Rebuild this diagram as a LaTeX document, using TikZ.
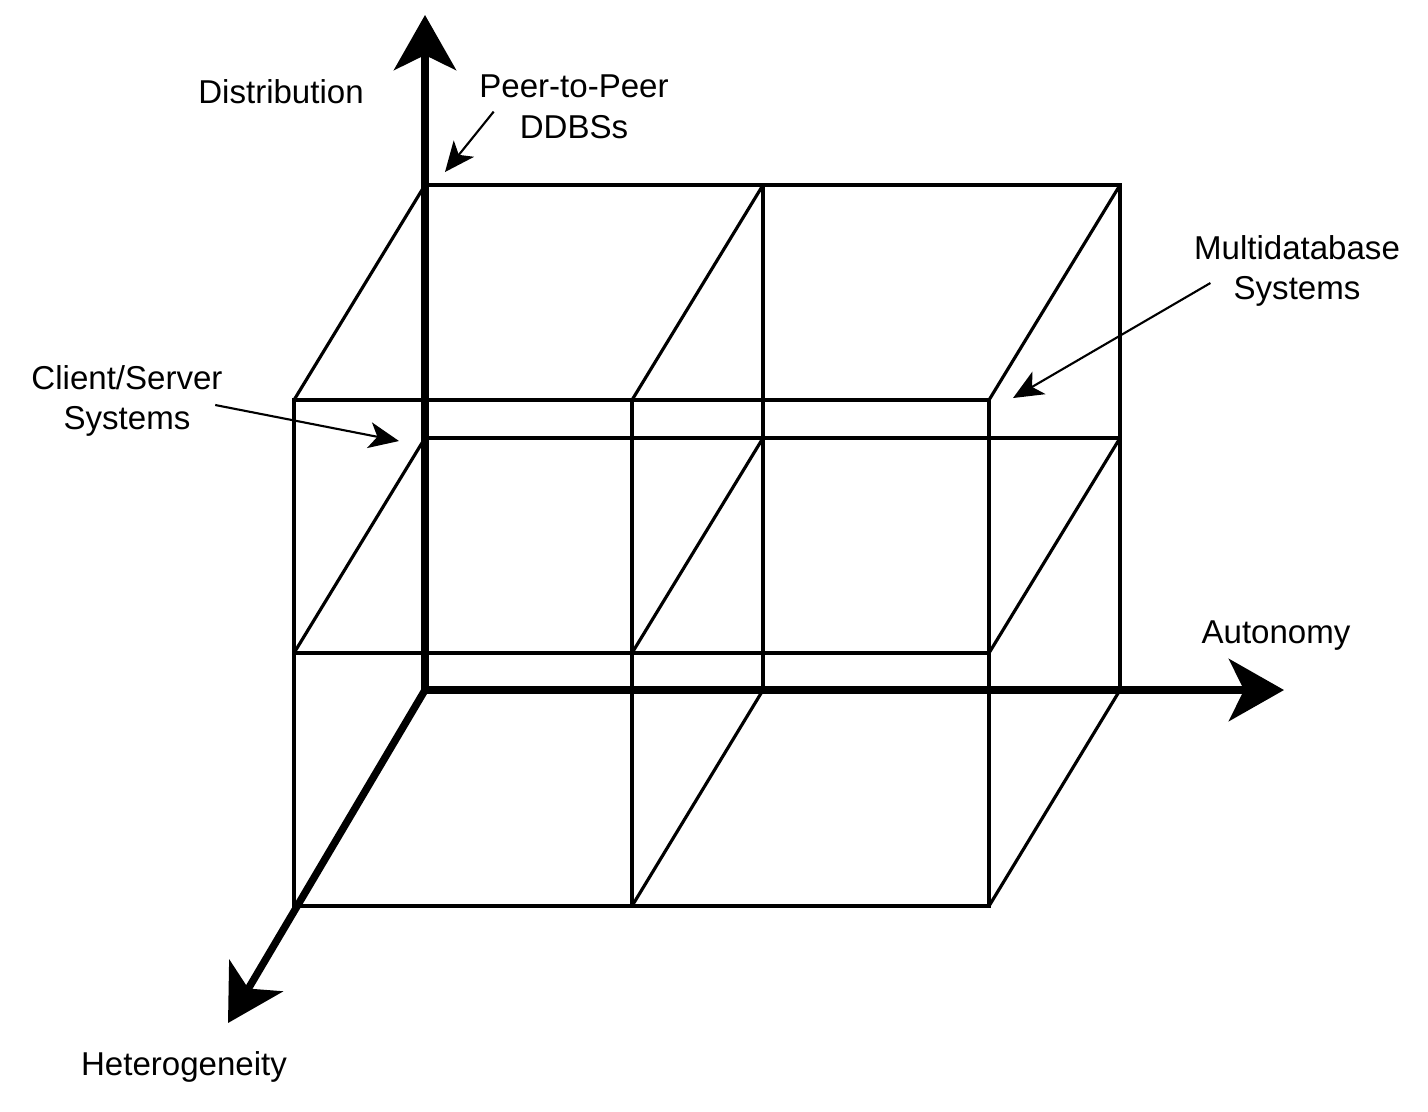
\documentclass[tikz,border=0pt]{standalone}
\usepackage{fontspec}
\setmainfont{Liberation Sans}
\usetikzlibrary{arrows.meta,positioning,calc}

\tikzset{
  cell/.style={line width=0.9pt, line join=miter},
  axis/.style={line width=2.1pt, -{Stealth[length=5.5mm, width=6.2mm, inset=1.5mm]}},
  ptr/.style={line width=0.6pt, -{Stealth[length=3mm, width=2.6mm, inset=0.8mm]}},
  lbl/.style={font=\fontsize{9.4}{11.6}\selectfont, align=center, inner sep=0pt},
}

\begin{document}
\begin{tikzpicture}[x=0.01cm, y=-0.01cm]
\useasboundingbox (0,0) rectangle (1428,1111);
% back layer
\draw[cell] (425,185) -- (1120,185) -- (1120,690);
\draw[cell] (425,438) -- (1120,438);
\draw[cell] (763,185) -- (763,690);
% front layer
\draw[cell] (294,400) rectangle (989,906);
\draw[cell] (294,653) -- (989,653);
\draw[cell] (632,400) -- (632,906);
% depth edges
\draw[cell] (425,185) -- (294,400) (763,185) -- (632,400) (1120,185) -- (989,400);
\draw[cell] (425,438) -- (294,653) (763,438) -- (632,653) (1120,438) -- (989,653);
\draw[cell] (763,690) -- (632,906) (1120,690) -- (989,906);
% axes
\coordinate (O) at (425,690);
\coordinate (distTip) at (425,15);
\coordinate (autoTip) at (1284,690);
\coordinate (hetTip) at (228,1023);
\draw[axis] (O) -- (distTip);
\draw[axis] (O) -- (autoTip);
\draw[axis] (O) -- (hetTip);
\node[lbl] (dist) at (281,92) {Distribution};
\node[lbl] (auto) at (1276,636) {Autonomy};
\node[lbl] (het) at (184,1067) {Heterogeneity};
% system classes
\node[lbl] (p2p) at (574,107) {Peer-to-Peer\\DDBSs};
\node[lbl] (multi) at (1297,271) {Multidatabase\\Systems};
\node[lbl] (cs) at (127,401) {Client/Server\\Systems};
\coordinate (p2pTip) at (445,172);
\coordinate (multiTip) at (1013,398);
\coordinate (csTip) at (399,441);
\draw[ptr] (p2p.south west) ++(15,-28) -- (p2pTip);
\draw[ptr] (multi.west) ++(17,12) -- (multiTip);
\draw[ptr] (cs.east) ++(-8,4) -- (csTip);
\end{tikzpicture}
\end{document}
